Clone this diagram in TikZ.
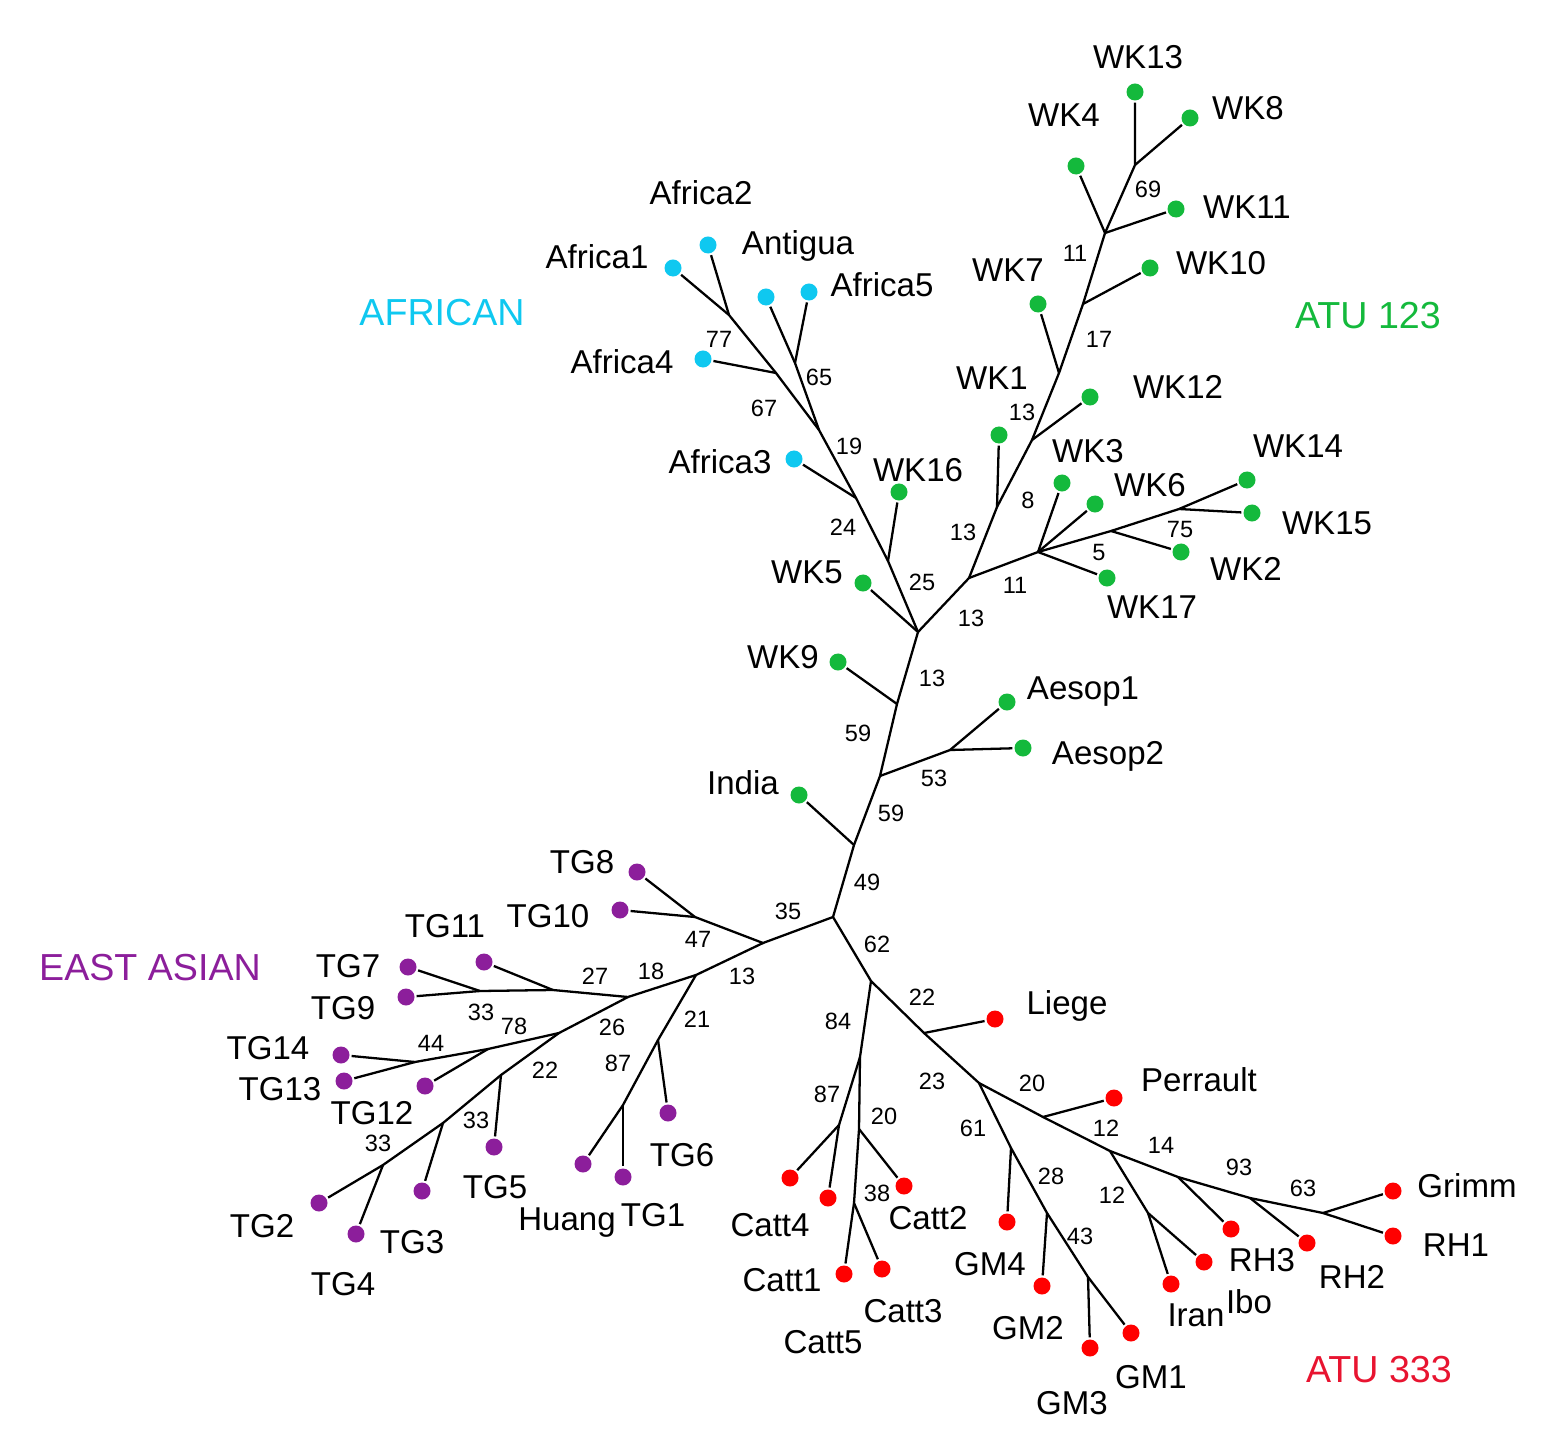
\documentclass[tikz,border=0pt]{standalone}
\usepackage{fontspec}
\setmainfont{Liberation Sans}
\definecolor{african}{RGB}{15,200,240}
\definecolor{atugreen}{RGB}{20,185,60}
\definecolor{eastasian}{RGB}{140,30,155}
\definecolor{atured}{RGB}{255,0,0}
\definecolor{atulabel}{RGB}{232,20,48}
\tikzset{
    leafdot/.style={circle, inner sep=0pt, outer sep=0.6pt, minimum size=0.17cm},
    taxon/.style={font=\fontsize{9.4}{11}\selectfont, inner sep=0pt},
    boot/.style={font=\fontsize{6.7}{8}\selectfont, inner sep=0pt},
    clade/.style={font=\fontsize{10.7}{13}\selectfont, inner sep=0pt},
}

\begin{document}
\begin{tikzpicture}[x=0.01cm, y=-0.01cm, line width=0.65pt]
    \useasboundingbox (0,0) rectangle (1558,1452);

    % inner nodes
    \coordinate (V) at (833,917);  \coordinate (U) at (854,845);
    \coordinate (T) at (880,776);  \coordinate (S) at (950,750);
    \coordinate (R) at (897,704);  \coordinate (K) at (918,632);
    \coordinate (Q) at (888,561);  \coordinate (P) at (856,498);
    \coordinate (O) at (819,430);  \coordinate (N) at (776,373);
    \coordinate (M) at (795,363);  \coordinate (L) at (729,315);
    \coordinate (G) at (969,578);  \coordinate (F) at (997,507);
    \coordinate (E) at (1032,440); \coordinate (D) at (1059,373);
    \coordinate (C) at (1083,304); \coordinate (B) at (1105,233);
    \coordinate (A) at (1135,165); \coordinate (H) at (1038,552);
    \coordinate (I) at (1111,531); \coordinate (J) at (1179,509);
    \coordinate (X) at (763,943);  \coordinate (W) at (695,917);
    \coordinate (Y) at (696,975);  \coordinate (Z) at (628,997);
    \coordinate (AA) at (553,990); \coordinate (AB) at (480,991);
    \coordinate (AC) at (559,1033);\coordinate (AD) at (488,1049);
    \coordinate (AI) at (415,1062);\coordinate (AE) at (501,1075);
    \coordinate (AF) at (443,1123);\coordinate (AJ) at (383,1165);
    \coordinate (AG) at (658,1040);\coordinate (AH) at (623,1105);
    \coordinate (BA) at (871,981); \coordinate (BB) at (924,1033);
    \coordinate (BC) at (979,1083);\coordinate (BD) at (1043,1117);
    \coordinate (BE) at (1110,1151);\coordinate (BN) at (1178,1177);
    \coordinate (BO) at (1250,1198);\coordinate (BP) at (1323,1213);
    \coordinate (BM) at (1148,1213);\coordinate (BF) at (860,1057);
    \coordinate (BG) at (839,1125);\coordinate (BH) at (859,1129);
    \coordinate (BI) at (854,1203);\coordinate (BJ) at (1011,1148);
    \coordinate (BK) at (1047,1213);\coordinate (BL) at (1088,1277);

    % leaves
    \node[leafdot, fill=african] (africa1) at (673,268) {};
    \node[leafdot, fill=african] (africa2) at (708,245) {};
    \node[leafdot, fill=african] (antigua) at (766,297) {};
    \node[leafdot, fill=african] (africa5) at (809,292) {};
    \node[leafdot, fill=african] (africa4) at (703,359) {};
    \node[leafdot, fill=african] (africa3) at (794,459) {};

    \node[leafdot, fill=atugreen] (wk13) at (1135,92) {};
    \node[leafdot, fill=atugreen] (wk8) at (1190,118) {};
    \node[leafdot, fill=atugreen] (wk4) at (1076,166) {};
    \node[leafdot, fill=atugreen] (wk11) at (1176,209) {};
    \node[leafdot, fill=atugreen] (wk10) at (1150,268) {};
    \node[leafdot, fill=atugreen] (wk7) at (1038,304) {};
    \node[leafdot, fill=atugreen] (wk12) at (1090,397) {};
    \node[leafdot, fill=atugreen] (wk1) at (999,435) {};
    \node[leafdot, fill=atugreen] (wk3) at (1062,483) {};
    \node[leafdot, fill=atugreen] (wk6) at (1095,504) {};
    \node[leafdot, fill=atugreen] (wk14) at (1247,480) {};
    \node[leafdot, fill=atugreen] (wk15) at (1252,513) {};
    \node[leafdot, fill=atugreen] (wk2) at (1181,552) {};
    \node[leafdot, fill=atugreen] (wk17) at (1107,578) {};
    \node[leafdot, fill=atugreen] (wk16) at (899,492) {};
    \node[leafdot, fill=atugreen] (wk5) at (863,583) {};
    \node[leafdot, fill=atugreen] (wk9) at (838,662) {};
    \node[leafdot, fill=atugreen] (aesop1) at (1007,702) {};
    \node[leafdot, fill=atugreen] (aesop2) at (1023,748) {};
    \node[leafdot, fill=atugreen] (india) at (799,795) {};

    \node[leafdot, fill=eastasian] (tg8) at (637,872) {};
    \node[leafdot, fill=eastasian] (tg10) at (620,910) {};
    \node[leafdot, fill=eastasian] (tg11) at (484,962) {};
    \node[leafdot, fill=eastasian] (tg7) at (408,967) {};
    \node[leafdot, fill=eastasian] (tg9) at (406,997) {};
    \node[leafdot, fill=eastasian] (tg14) at (341,1055) {};
    \node[leafdot, fill=eastasian] (tg13) at (344,1081) {};
    \node[leafdot, fill=eastasian] (tg12) at (425,1086) {};
    \node[leafdot, fill=eastasian] (tg5) at (494,1147) {};
    \node[leafdot, fill=eastasian] (tg3) at (422,1191) {};
    \node[leafdot, fill=eastasian] (tg2) at (319,1203) {};
    \node[leafdot, fill=eastasian] (tg4) at (356,1234) {};
    \node[leafdot, fill=eastasian] (tg6) at (668,1113) {};
    \node[leafdot, fill=eastasian] (huang) at (583,1164) {};
    \node[leafdot, fill=eastasian] (tg1) at (623,1177) {};

    \node[leafdot, fill=atured] (liege) at (995,1019) {};
    \node[leafdot, fill=atured] (perrault) at (1114,1098) {};
    \node[leafdot, fill=atured] (grimm) at (1393,1191) {};
    \node[leafdot, fill=atured] (rh1) at (1393,1236) {};
    \node[leafdot, fill=atured] (rh2) at (1307,1243) {};
    \node[leafdot, fill=atured] (rh3) at (1231,1229) {};
    \node[leafdot, fill=atured] (ibo) at (1204,1262) {};
    \node[leafdot, fill=atured] (iran) at (1171,1284) {};
    \node[leafdot, fill=atured] (gm1) at (1131,1333) {};
    \node[leafdot, fill=atured] (gm3) at (1090,1348) {};
    \node[leafdot, fill=atured] (gm2) at (1042,1286) {};
    \node[leafdot, fill=atured] (gm4) at (1007,1222) {};
    \node[leafdot, fill=atured] (catt4) at (790,1178) {};
    \node[leafdot, fill=atured] (catt5) at (828,1198) {};
    \node[leafdot, fill=atured] (catt2) at (904,1186) {};
    \node[leafdot, fill=atured] (catt1) at (844,1274) {};
    \node[leafdot, fill=atured] (catt3) at (882,1269) {};

    % branches
    \draw (V) -- (U) -- (T) -- (R) -- (K) -- (Q) -- (P) -- (O) -- (N) -- (L) -- (africa1);
    \draw (L) -- (africa2);
    \draw (N) -- (africa4);
    \draw (O) -- (M) -- (antigua);
    \draw (M) -- (africa5);
    \draw (P) -- (africa3);
    \draw (Q) -- (wk16);
    \draw (K) -- (wk5);
    \draw (K) -- (G) -- (F) -- (E) -- (D) -- (C) -- (B) -- (A) -- (wk13);
    \draw (A) -- (wk8);
    \draw (B) -- (wk4);
    \draw (B) -- (wk11);
    \draw (C) -- (wk10);
    \draw (D) -- (wk7);
    \draw (E) -- (wk12);
    \draw (F) -- (wk1);
    \draw (G) -- (H) -- (I) -- (J) -- (wk14);
    \draw (J) -- (wk15);
    \draw (I) -- (wk2);
    \draw (H) -- (wk3);
    \draw (H) -- (wk6);
    \draw (H) -- (wk17);
    \draw (R) -- (wk9);
    \draw (T) -- (S) -- (aesop1);
    \draw (S) -- (aesop2);
    \draw (U) -- (india);

    \draw (V) -- (X) -- (W) -- (tg8);
    \draw (W) -- (tg10);
    \draw (X) -- (Y) -- (Z) -- (AA) -- (AB) -- (tg7);
    \draw (AB) -- (tg9);
    \draw (AA) -- (tg11);
    \draw (Z) -- (AC) -- (AD) -- (AI) -- (tg14);
    \draw (AI) -- (tg13);
    \draw (AD) -- (tg12);
    \draw (AC) -- (AE) -- (AF) -- (AJ) -- (tg2);
    \draw (AJ) -- (tg4);
    \draw (AF) -- (tg3);
    \draw (AE) -- (tg5);
    \draw (Y) -- (AG) -- (AH) -- (huang);
    \draw (AH) -- (tg1);
    \draw (AG) -- (tg6);

    \draw (V) -- (BA) -- (BB) -- (BC) -- (BD) -- (BE) -- (BN) -- (BO) -- (BP) -- (rh1);
    \draw (BP) -- (grimm);
    \draw (BO) -- (rh2);
    \draw (BN) -- (rh3);
    \draw (BE) -- (BM) -- (iran);
    \draw (BM) -- (ibo);
    \draw (BD) -- (perrault);
    \draw (BB) -- (liege);
    \draw (BC) -- (BJ) -- (BK) -- (BL) -- (gm1);
    \draw (BL) -- (gm3);
    \draw (BK) -- (gm2);
    \draw (BJ) -- (gm4);
    \draw (BA) -- (BF) -- (BG) -- (catt4);
    \draw (BG) -- (catt5);
    \draw (BF) -- (BH) -- (BI) -- (catt1);
    \draw (BI) -- (catt3);
    \draw (BH) -- (catt2);

    % taxon names
    \node[taxon] (nafrica2) at (701,193) {Africa2};
    \node[taxon] (nantigua) at (798,246) {Antigua};
    \node[taxon] (nafrica1) at (597,257) {Africa1};
    \node[taxon] (nafrica5) at (882,285) {Africa5};
    \node[taxon] (nafrica4) at (622,362) {Africa4};
    \node[taxon] (nafrica3) at (720,462) {Africa3};
    \node[taxon] (nwk13) at (1138,57) {WK13};
    \node[taxon] (nwk8) at (1248,108) {WK8};
    \node[taxon] (nwk4) at (1064,115) {WK4};
    \node[taxon] (nwk11) at (1247,207) {WK11};
    \node[taxon] (nwk10) at (1221,263) {WK10};
    \node[taxon] (nwk7) at (1008,270) {WK7};
    \node[taxon] (nwk1) at (992,378) {WK1};
    \node[taxon] (nwk12) at (1178,387) {WK12};
    \node[taxon] (nwk3) at (1088,451) {WK3};
    \node[taxon] (nwk6) at (1150,485) {WK6};
    \node[taxon] (nwk14) at (1298,446) {WK14};
    \node[taxon] (nwk15) at (1327,523) {WK15};
    \node[taxon] (nwk2) at (1246,569) {WK2};
    \node[taxon] (nwk17) at (1152,607) {WK17};
    \node[taxon] (nwk16) at (918,470) {WK16};
    \node[taxon] (nwk5) at (807,572) {WK5};
    \node[taxon] (nwk9) at (783,657) {WK9};
    \node[taxon] (naesop1) at (1083,692) {Aesop1};
    \node[taxon] (naesop2) at (1108,756) {Aesop2};
    \node[taxon] (nindia) at (743,783) {India};
    \node[taxon] (ntg8) at (582,862) {TG8};
    \node[taxon] (ntg10) at (548,916) {TG10};
    \node[taxon] (ntg11) at (445,926) {TG11};
    \node[taxon] (ntg7) at (348,966) {TG7};
    \node[taxon] (ntg9) at (343,1008) {TG9};
    \node[taxon] (ntg14) at (268,1048) {TG14};
    \node[taxon] (ntg13) at (280,1089) {TG13};
    \node[taxon] (ntg12) at (372,1113) {TG12};
    \node[taxon] (ntg2) at (262,1226) {TG2};
    \node[taxon] (ntg3) at (412,1242) {TG3};
    \node[taxon] (ntg4) at (343,1284) {TG4};
    \node[taxon] (ntg5) at (495,1187) {TG5};
    \node[taxon] (ntg6) at (682,1155) {TG6};
    \node[taxon] (nhuang) at (567,1223) {Huang};
    \node[taxon] (ntg1) at (653,1215) {TG1};
    \node[taxon] (nliege) at (1067,1006) {Liege};
    \node[taxon] (nperrault) at (1199,1080) {Perrault};
    \node[taxon] (ngrimm) at (1467,1186) {Grimm};
    \node[taxon] (nrh1) at (1456,1245) {RH1};
    \node[taxon] (nrh3) at (1262,1260) {RH3};
    \node[taxon] (nrh2) at (1352,1277) {RH2};
    \node[taxon] (niran) at (1196,1315) {Iran};
    \node[taxon] (nibo) at (1249,1302) {Ibo};
    \node[taxon] (ngm1) at (1151,1377) {GM1};
    \node[taxon] (ngm3) at (1072,1403) {GM3};
    \node[taxon] (ngm2) at (1028,1328) {GM2};
    \node[taxon] (ngm4) at (990,1264) {GM4};
    \node[taxon] (ncatt4) at (770,1225) {Catt4};
    \node[taxon] (ncatt2) at (928,1218) {Catt2};
    \node[taxon] (ncatt1) at (782,1280) {Catt1};
    \node[taxon] (ncatt3) at (903,1311) {Catt3};
    \node[taxon] (ncatt5) at (823,1342) {Catt5};

    % support values
    \node[boot] (b1) at (719,339) {77};
    \node[boot] (b2) at (819,377) {65};
    \node[boot] (b3) at (764,408) {67};
    \node[boot] (b4) at (849,446) {19};
    \node[boot] (b5) at (843,527) {24};
    \node[boot] (b6) at (922,582) {25};
    \node[boot] (b7) at (971,618) {13};
    \node[boot] (b8) at (1015,585) {11};
    \node[boot] (b9) at (963,532) {13};
    \node[boot] (b10) at (1028,500) {8};
    \node[boot] (b11) at (1099,553) {5};
    \node[boot] (b12) at (1180,530) {75};
    \node[boot] (b13) at (1022,412) {13};
    \node[boot] (b14) at (1099,339) {17};
    \node[boot] (b15) at (1075,253) {11};
    \node[boot] (b16) at (1148,189) {69};
    \node[boot] (b17) at (932,678) {13};
    \node[boot] (b18) at (858,733) {59};
    \node[boot] (b19) at (934,778) {53};
    \node[boot] (b20) at (891,813) {59};
    \node[boot] (b21) at (867,882) {49};
    \node[boot] (b22) at (788,911) {35};
    \node[boot] (b23) at (877,944) {62};
    \node[boot] (b24) at (698,939) {47};
    \node[boot] (b25) at (742,976) {13};
    \node[boot] (b26) at (651,971) {18};
    \node[boot] (b27) at (595,976) {27};
    \node[boot] (b28) at (481,1012) {33};
    \node[boot] (b29) at (514,1026) {78};
    \node[boot] (b30) at (431,1043) {44};
    \node[boot] (b31) at (612,1027) {26};
    \node[boot] (b32) at (697,1019) {21};
    \node[boot] (b33) at (618,1063) {87};
    \node[boot] (b34) at (545,1070) {22};
    \node[boot] (b35) at (476,1120) {33};
    \node[boot] (b36) at (378,1143) {33};
    \node[boot] (b37) at (922,997) {22};
    \node[boot] (b38) at (838,1021) {84};
    \node[boot] (b39) at (932,1081) {23};
    \node[boot] (b40) at (1032,1083) {20};
    \node[boot] (b41) at (827,1094) {87};
    \node[boot] (b42) at (884,1116) {20};
    \node[boot] (b43) at (973,1128) {61};
    \node[boot] (b44) at (1106,1128) {12};
    \node[boot] (b45) at (1051,1176) {28};
    \node[boot] (b46) at (877,1193) {38};
    \node[boot] (b47) at (1112,1195) {12};
    \node[boot] (b48) at (1080,1236) {43};
    \node[boot] (b49) at (1161,1145) {14};
    \node[boot] (b50) at (1239,1167) {93};
    \node[boot] (b51) at (1303,1188) {63};

    % clade names
    \node[clade, text=african] (gafrican) at (442,313) {AFRICAN};
    \node[clade, text=atugreen] (gatu123) at (1368,316) {ATU 123};
    \node[clade, text=eastasian] (geast) at (150,968) {EAST ASIAN};
    \node[clade, text=atulabel] (gatu333) at (1379,1370) {ATU 333};
\end{tikzpicture}
\end{document}
